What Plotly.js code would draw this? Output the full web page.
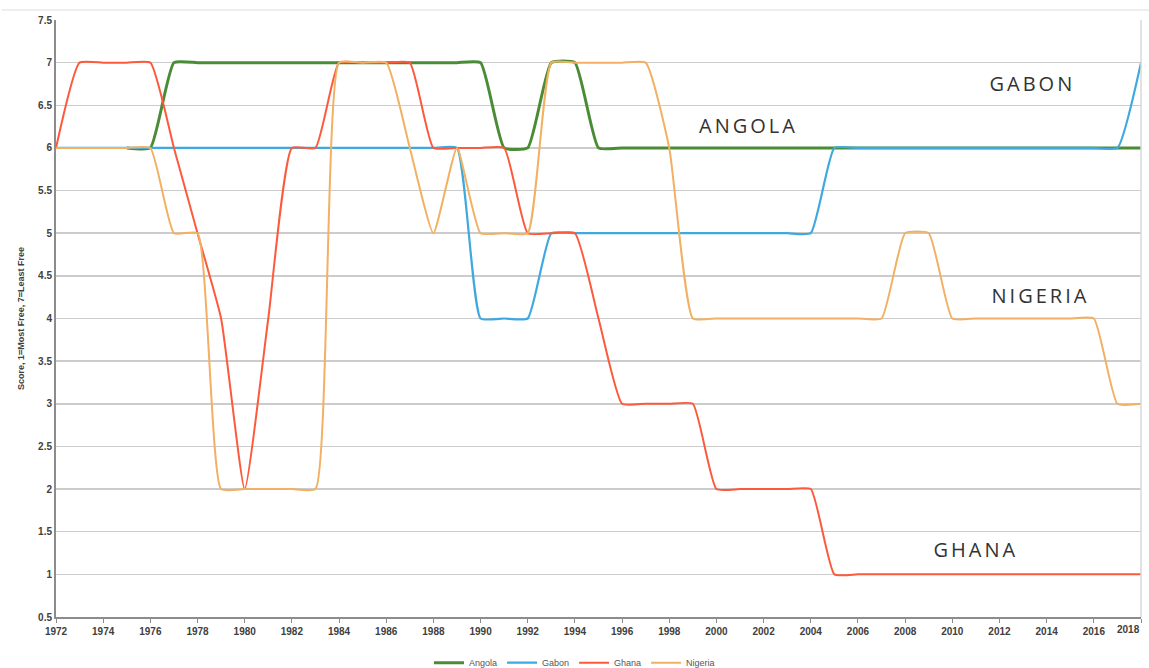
<!DOCTYPE html>
<html>
<head>
<meta charset="utf-8">
<script src="https://cdn.plot.ly/plotly-3.0.1.min.js"></script>
<style>
html,body{margin:0;padding:0;background:#fff;}
#chart{width:1149px;height:668px;}
</style>
</head>
<body>
<div id="chart"></div>
<script>
// ---- data ----
var years = [];
for (var y = 1972; y <= 2018; y++) years.push(y);

var angolaYears = [1975,1976,1977,1978,1979,1980,1981,1982,1983,1984,1985,1986,1987,1988,1989,1990,1991,1992,1993,1994,1995,1996,1997,1998,1999,2000,2001,2002,2003,2004,2005,2006,2007,2008,2009,2010,2011,2012,2013,2014,2015,2016,2017,2018];
var angola = [6,6,7,7,7,7,7,7,7,7,7,7,7,7,7,7,6,6,7,7,6,6,6,6,6,6,6,6,6,6,6,6,6,6,6,6,6,6,6,6,6,6,6,6];

var gabon = [6,6,6,6,6,6,6,6,6,6,6,6,6,6,6,6,6,6,4,4,4,5,5,5,5,5,5,5,5,5,5,5,5,6,6,6,6,6,6,6,6,6,6,6,6,6,7];
var ghana = [6,7,7,7,7,6,5,4,2,4,6,6,7,7,7,7,6,6,6,6,5,5,5,4,3,3,3,3,2,2,2,2,2,1,1,1,1,1,1,1,1,1,1,1,1,1,1];
var nigeria = [6,6,6,6,6,5,5,2,2,2,2,2,7,7,7,6,5,6,5,5,5,7,7,7,7,7,6,4,4,4,4,4,4,4,4,4,5,5,4,4,4,4,4,4,4,3,3];

var tickYears = [1972,1974,1976,1978,1980,1982,1984,1986,1988,1990,1992,1994,1996,1998,2000,2002,2004,2006,2008,2010,2012,2014,2016,2018];
var lastTick = '2018';
var tickText = tickYears.map(function(t){ return String(t) === lastTick ? '' : String(t); });

var labels = [
  {text:'GABON', x:2013.4, y:6.76},
  {text:'ANGOLA', x:2001.35, y:6.265},
  {text:'NIGERIA', x:2013.75, y:4.27},
  {text:'GHANA', x:2011.0, y:1.295}
];

var colors = {Angola:'#4a8c35', Gabon:'#3fa9df', Ghana:'#fd5a3c', Nigeria:'#f2b063'};
var smooth = 0.45;

function tr(name, xs, ys, w){
  return {x:xs, y:ys, name:name, type:'scatter', mode:'lines',
    line:{color:colors[name], width:w, shape:'spline', smoothing:smooth}};
}

var data = [
  tr('Angola', angolaYears, angola, 3),
  tr('Gabon', years, gabon, 2.2),
  tr('Ghana', years, ghana, 2),
  tr('Nigeria', years, nigeria, 2)
];

var tickFont = {family:'Liberation Sans, Arial, sans-serif', size:10, color:'#404040', weight:'bold'};

var annots = labels.map(function(l){
  return {text:l.text, x:l.x, y:l.y, xref:'x', yref:'y', showarrow:false,
    font:{family:'Open Sans, Liberation Sans, sans-serif', size:20, color:'#333333', weight:500}};
});
annots.push({text:lastTick, xref:'paper', yref:'paper', x:1, y:0, xanchor:'right', yanchor:'top',
  yshift:-5, xshift:1, showarrow:false, font:tickFont});

var layout = {
  width:1149, height:668,
  margin:{l:56, r:8, t:20, b:51},
  paper_bgcolor:'#fff', plot_bgcolor:'#fff',
  showlegend:true,
  legend:{orientation:'h', x:0.5, xanchor:'center', xref:'container', yref:'container', y:0.008, yanchor:'middle',
    font:{family:'Liberation Sans, Arial, sans-serif', size:9, color:'#555'}, itemwidth:30},
  xaxis:{range:[1972,2018], tickmode:'array', tickvals:tickYears, ticktext:tickText,
    showgrid:false, zeroline:false, showline:true, linecolor:'#8c8c8c', linewidth:2,
    ticks:'outside', ticklen:4, tickcolor:'#8c8c8c', tickwidth:1,
    tickfont:tickFont, fixedrange:true},
  yaxis:{range:[0.5,7.5], tickmode:'linear', tick0:0.5, dtick:0.5,
    showgrid:true, gridcolor:'#cccccc', gridwidth:1.5, zeroline:false,
    showline:true, linecolor:'#8c8c8c', linewidth:2, ticks:'', ticklen:0,
    tickfont:tickFont, fixedrange:true,
    title:{text:'Score, 1=Most Free, 7=Least Free', standoff:12,
      font:{family:'Liberation Sans, Arial, sans-serif', size:9, color:'#404040', weight:'bold'}}},
  annotations: annots,
  shapes:[
    {type:'line', xref:'paper', yref:'paper', x0:1, x1:1, y0:0, y1:1, line:{color:'#d9d9d9', width:1.5}},
    {type:'line', xref:'paper', yref:'paper', x0:-0.05, x1:1.01, y0:1.0168, y1:1.0168, line:{color:'#eeeeee', width:2}}
  ]
};

Plotly.newPlot('chart', data, layout, {displayModeBar:false, staticPlot:true}).then(function(gd){
  // letter spacing for the four country labels only
  var nodes = document.querySelectorAll('#chart .annotation');
  nodes.forEach(function(n, i){
    if (i < labels.length) { var t = n.querySelector('.annotation-text'); if (t) t.style.letterSpacing = '3px'; }
  });
});
</script>
</body>
</html>
